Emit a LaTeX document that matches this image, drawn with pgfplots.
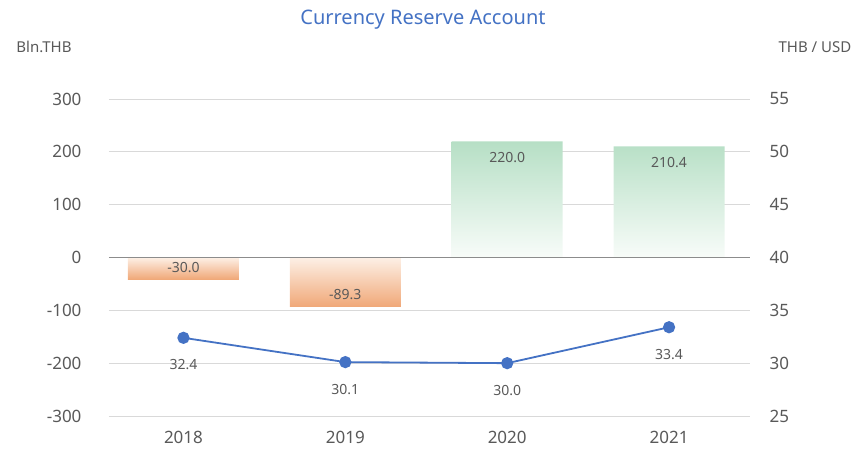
\documentclass[border=0pt]{standalone}
\usepackage{pgfplots}
\pgfplotsset{compat=1.18}
\usepackage{pgfplotstable}
\usepackage{fontspec}
\setmainfont{Noto Sans}
\definecolor{txt}{RGB}{89,89,89}
\definecolor{gridc}{RGB}{217,217,217}
\definecolor{zeroc}{RGB}{140,140,140}
\definecolor{blueline}{RGB}{68,114,196}
\definecolor{orangeD}{RGB}{240,168,120}
\definecolor{orangeL}{RGB}{253,240,230}
\definecolor{greenD}{RGB}{182,223,197}
\definecolor{greenL}{RGB}{248,252,249}

\pgfplotstableread{
x y lab
0 -41 -30.0
}\negbarA
\pgfplotstableread{
x y lab
1 -93 -89.3
}\negbarB
\pgfplotstableread{
x y lab
2 220.0 220.0
3 210.4 210.4
}\posbars
\pgfplotstableread{
x y
0 32.4
1 30.1
2 30.0
3 33.4
}\rate

\begin{document}
\begin{tikzpicture}
\path[use as bounding box] (-109pt,-42pt) rectangle (757pt,416pt);
\pgfplotsset{
  common/.style={
    at={(0,0)}, anchor=south west, scale only axis,
    width=641pt, height=317pt,
    xmin=-0.46, xmax=3.5,
    axis line style={draw=none},
    major tick length=0pt,
    tick label style={font=\fontsize{17}{17}\selectfont, color=txt},
  },
  negstyle/.style={ybar, bar width=111pt, bar shift=0pt, draw=none,
    point meta=explicit symbolic,
    nodes near coords,
    every node near coord/.append style={anchor=center, yshift=12pt, font=\fontsize{14}{14}\selectfont, color=txt}},
}
\begin{axis}[common,
  ymin=-300, ymax=300,
  ytick={-300,-200,...,300},
  yticklabels={-300,-200,-100,0,100,200,300},
  xtick={0,1,2,3}, xticklabels={2018,2019,2020,2021},
  ymajorgrids, grid style={color=gridc, line width=0.9pt},
  yticklabel shift=24pt, xticklabel shift=12pt,
  axis y line*=left, axis x line*=bottom,
]
\addplot[negstyle, top color=orangeL, bottom color=orangeD]
  table[x=x, y=y, meta=lab]{\negbarA};
\addplot[negstyle, top color=orangeL, middle color=orangeD, bottom color=orangeD]
  table[x=x, y=y, meta=lab]{\negbarB};
\addplot[ybar, bar width=111pt, bar shift=0pt, draw=none,
  top color=greenD, middle color=greenD!75!white, bottom color=greenL,
  point meta=explicit symbolic,
  nodes near coords,
  every node near coord/.append style={anchor=center, yshift=-16pt, font=\fontsize{14}{14}\selectfont, color=txt}]
  table[x=x, y=y, meta=lab]{\posbars};
\draw[zeroc, line width=1.3pt] (axis cs:-0.46,0) -- (axis cs:3.5,0);
\end{axis}
\begin{axis}[common,
  ymin=25, ymax=55,
  ytick={25,30,...,55},
  yticklabels={25,30,35,40,45,50,55},
  axis y line*=right, hide x axis,
  yticklabel shift=16pt,
]
\addplot[color=blueline, line width=1.8pt, mark=*, mark size=5.2pt,
  mark options={fill=blueline, draw=blueline},
  nodes near coords={\pgfmathprintnumber[fixed, fixed zerofill, precision=1, assume math mode=true]{\pgfplotspointmeta}},
  every node near coord/.append style={anchor=center, yshift=-27pt, font=\fontsize{14}{14}\selectfont, color=txt}]
  table[x=x, y=y]{\rate};
\end{axis}
\node[font=\fontsize{20}{20}\selectfont, color=blueline] at (314pt,396pt) {Currency Reserve Account};
\node[font=\fontsize{15}{15}\selectfont, color=txt] at (-65pt,369pt) {Bln.THB};
\node[font=\fontsize{15}{15}\selectfont, color=txt] at (706pt,369pt) {THB / USD};
\end{tikzpicture}
\end{document}
